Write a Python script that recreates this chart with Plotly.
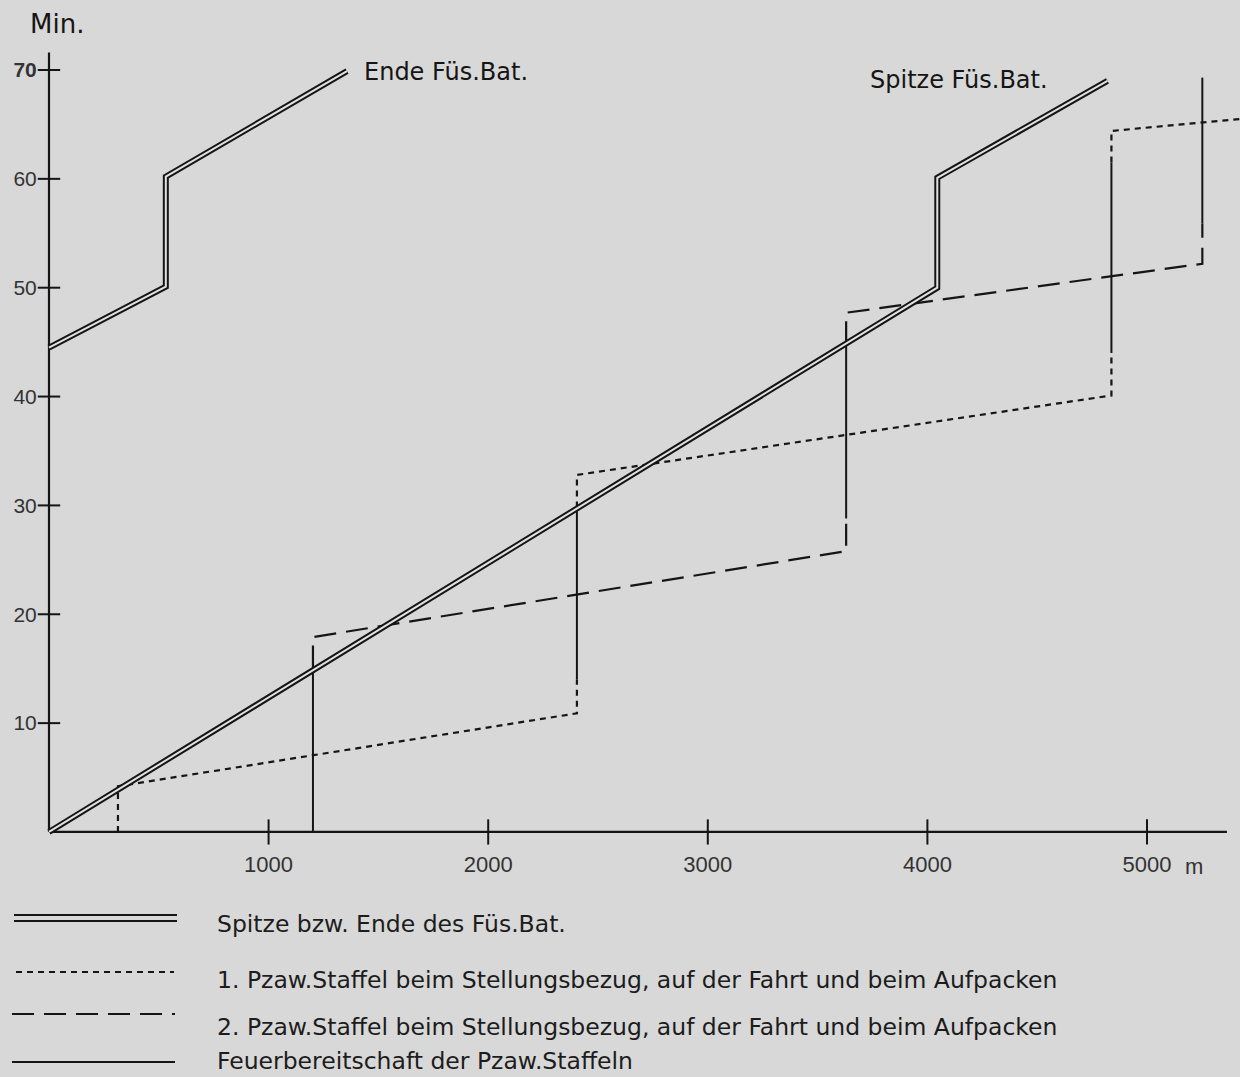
import plotly.graph_objects as go

# ---------------- data (distance in m, time in min) ----------------
spitze_x = [0, 4045, 4045, 4820]
spitze_y = [0, 50.0, 60.1, 69.0]

ende_x = [0, 532, 532, 1357]
ende_y = [44.5, 50.1, 60.2, 69.9]

# 1. Pzaw.Staffel (Stellungsbezug, Fahrt, Aufpacken) - dotted
staffel1_x = [314, 314, 2404, 2404, None, 2404, 2404, 4838, 4838, None, 4838, 4838, 5423]
staffel1_y = [0, 4.2, 10.9, 14.0, None, 29.8, 32.8, 40.1, 44.0, None, 61.5, 64.4, 65.5]

# 2. Pzaw.Staffel - dashed
staffel2_x = [1202, 1202, 3630, 3630, None, 3630, 3630, 5252, 5252]
staffel2_y = [15.1, 17.9, 25.8, 28.8, None, 44.9, 47.7, 52.2, 55.9]

# Feuerbereitschaft der Pzaw.Staffeln - solid
feuer_x = [1202, 1202, None, 2404, 2404, None, 3630, 3630, None, 4838, 4838, None, 5252, 5252]
feuer_y = [0, 15.1, None, 14.0, 29.8, None, 28.8, 44.9, None, 44.0, 61.5, None, 55.9, 69.3]

x_ticks = [1000, 2000, 3000, 4000, 5000]
x_ticktext = ["1000", "2000", "3000", "4000", "5000"]
y_ticks = [10, 20, 30, 40, 50, 60, 70]
y_ticktext = ["10", "20", "30", "40", "50", "60", "<b>70</b>"]

legend_labels = [
    "Spitze bzw. Ende des Füs.Bat.",
    "1. Pzaw.Staffel beim Stellungsbezug, auf der Fahrt und beim Aufpacken",
    "2. Pzaw.Staffel beim Stellungsbezug, auf der Fahrt und beim Aufpacken",
    "Feuerbereitschaft der Pzaw.Staffeln",
]

# ---------------- styling ----------------
W, H = 1240, 1077
BG = "#d8d8d8"
INK = "#151515"
X_RANGE = [-223.1, 5423.5]
Y_RANGE = [-22.51, 76.43]
X0_PAPER = (0 - X_RANGE[0]) / (X_RANGE[1] - X_RANGE[0])
Y0_PAPER = (0 - Y_RANGE[0]) / (Y_RANGE[1] - Y_RANGE[0])

fig = go.Figure()

# axis lines (drawn in data coordinates)
fig.add_trace(go.Scatter(x=[0, 0, None, 0, 5364], y=[71.6, 0, None, 0, 0], mode="lines",
                         line=dict(color=INK, width=2.2), showlegend=False, hoverinfo="skip"))
# tick crosses
fig.add_trace(go.Scatter(x=x_ticks, y=[0] * len(x_ticks), mode="markers",
                         marker=dict(symbol="line-ns", size=18, line=dict(color=INK, width=2)),
                         showlegend=False, hoverinfo="skip"))
fig.add_trace(go.Scatter(x=[0] * len(y_ticks), y=y_ticks, mode="markers",
                         marker=dict(symbol="line-ew", size=16, line=dict(color=INK, width=2)),
                         showlegend=False, hoverinfo="skip"))

# Feuerbereitschaft (solid)
fig.add_trace(go.Scatter(x=feuer_x, y=feuer_y, mode="lines", connectgaps=False,
                         line=dict(color=INK, width=2), showlegend=False, hoverinfo="skip"))
# 1. Staffel (dotted)
fig.add_trace(go.Scatter(x=staffel1_x, y=staffel1_y, mode="lines", connectgaps=False,
                         line=dict(color=INK, width=2.2, dash="6px,5px"), showlegend=False, hoverinfo="skip"))
# 2. Staffel (long dashes)
fig.add_trace(go.Scatter(x=staffel2_x, y=staffel2_y, mode="lines", connectgaps=False,
                         line=dict(color=INK, width=2.2, dash="22px,10px"), showlegend=False, hoverinfo="skip"))

# double lines: Spitze / Ende Füs.Bat.
for xs, ys in ((spitze_x, spitze_y), (ende_x, ende_y)):
    fig.add_trace(go.Scatter(x=xs, y=ys, mode="lines", line=dict(color=INK, width=6),
                             showlegend=False, hoverinfo="skip"))
    fig.add_trace(go.Scatter(x=xs, y=ys, mode="lines", line=dict(color="#e2e2e2", width=2),
                             showlegend=False, hoverinfo="skip"))

# ---------------- annotations ----------------
ann = []
ann.append(dict(x=-95, y=74.2, xref="x", yref="y", text="Min.", showarrow=False,
                xanchor="left", yanchor="middle", font=dict(family="DejaVu Sans", size=26, color=INK)))
ann.append(dict(x=1425, y=69.8, xref="x", yref="y", text="Ende Füs.Bat.", showarrow=False,
                xanchor="left", yanchor="middle", font=dict(family="DejaVu Sans", size=24, color=INK)))
ann.append(dict(x=3730, y=69.1, xref="x", yref="y", text="Spitze Füs.Bat.", showarrow=False,
                xanchor="left", yanchor="middle", font=dict(family="DejaVu Sans", size=24, color=INK)))
ann.append(dict(x=5164, y=-3.2, xref="x", yref="y", text="m", showarrow=False,
                xanchor="left", yanchor="middle", font=dict(family="Liberation Sans", size=22, color="#333")))

# legend (samples + texts) in paper coordinates
def px(xp):
    return xp / W

def py(yp):
    return 1 - yp / H

shapes = []
# double line sample
for yy in (915, 921):
    shapes.append(dict(type="line", xref="paper", yref="paper", x0=px(14), x1=px(177), y0=py(yy), y1=py(yy),
                       line=dict(color=INK, width=2)))
shapes.append(dict(type="line", xref="paper", yref="paper", x0=px(16), x1=px(174), y0=py(972), y1=py(972),
                   line=dict(color=INK, width=2.2, dash="6px,5px")))
shapes.append(dict(type="line", xref="paper", yref="paper", x0=px(12), x1=px(175), y0=py(1014), y1=py(1014),
                   line=dict(color=INK, width=2.2, dash="22px,10px")))
shapes.append(dict(type="line", xref="paper", yref="paper", x0=px(12), x1=px(175), y0=py(1062), y1=py(1062),
                   line=dict(color=INK, width=2.2)))

legend_y = [924, 980, 1027, 1061]
for lab, yy in zip(legend_labels, legend_y):
    ann.append(dict(x=px(215), y=py(yy), xref="paper", yref="paper", text=lab, showarrow=False,
                    xanchor="left", yanchor="middle", font=dict(family="DejaVu Sans", size=23.5, color="#1c1c1c")))

fig.update_layout(
    width=W, height=H,
    margin=dict(l=0, r=0, t=0, b=0, pad=0),
    paper_bgcolor=BG, plot_bgcolor=BG,
    showlegend=False,
    annotations=ann,
    shapes=shapes,
    xaxis=dict(range=X_RANGE, anchor="free", position=Y0_PAPER, showgrid=False, zeroline=False,
               showline=False, tickmode="array", tickvals=x_ticks, ticktext=x_ticktext,
               ticks="outside", ticklen=13, tickcolor="rgba(0,0,0,0)", automargin=False,
               tickfont=dict(family="Liberation Sans", size=22, color="#333")),
    yaxis=dict(range=Y_RANGE, anchor="free", position=X0_PAPER, showgrid=False, zeroline=False,
               showline=False, tickmode="array", tickvals=y_ticks, ticktext=y_ticktext,
               ticks="outside", ticklen=8, tickcolor="rgba(0,0,0,0)", automargin=False,
               tickfont=dict(family="Liberation Sans", size=21, color="#333")),
)

fig.write_html("out.html", config={"displayModeBar": False},
               post_script="document.body.style.margin='0px';document.body.style.overflow='hidden';")
